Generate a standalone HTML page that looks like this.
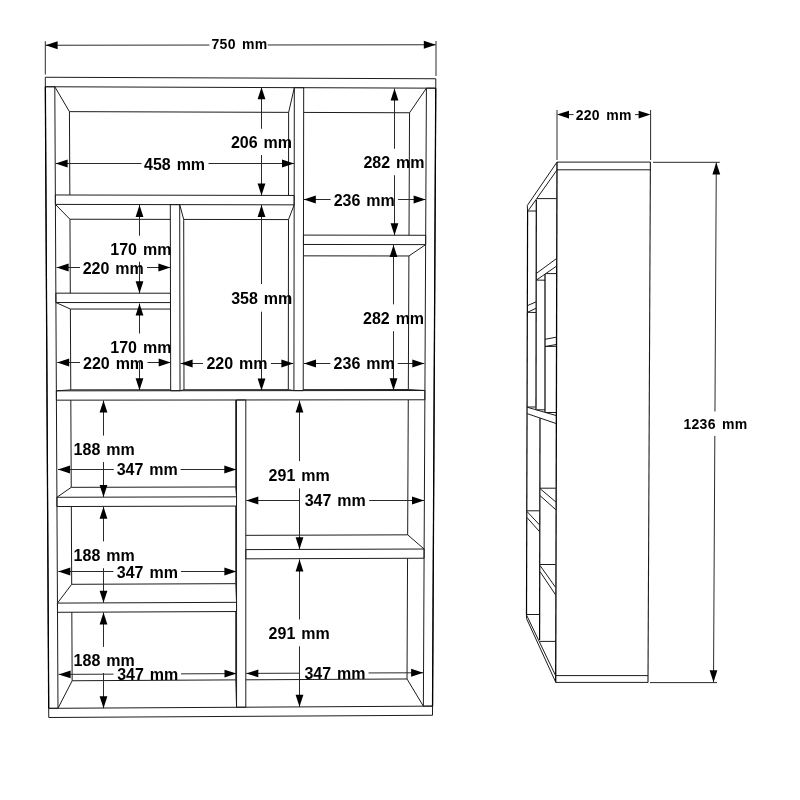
<!DOCTYPE html>
<html><head><meta charset="utf-8"><title>Bookshelf dimensions</title>
<style>
html,body{margin:0;padding:0;background:#fff;}
body{width:800px;height:800px;overflow:hidden;}
svg{display:block;will-change:transform;}
text{font-family:"Liberation Sans",sans-serif;font-weight:bold;font-size:16px;fill:#000;word-spacing:1.5px;}
text.s{font-size:14px;letter-spacing:0.3px;word-spacing:2px;}
</style></head><body>
<svg width="800" height="800" viewBox="0 0 800 800">
<rect width="800" height="800" fill="#fff"/>
<line x1="45.30" y1="77.25" x2="435.80" y2="78.75" stroke="#1c1c1c" stroke-width="1.0"/>
<line x1="435.80" y1="78.75" x2="435.75" y2="88.18" stroke="#1c1c1c" stroke-width="1.0"/>
<line x1="435.75" y1="88.18" x2="45.35" y2="86.74" stroke="#1c1c1c" stroke-width="1.0"/>
<line x1="45.35" y1="86.74" x2="45.30" y2="77.25" stroke="#1c1c1c" stroke-width="1.0"/>
<line x1="48.70" y1="708.34" x2="432.55" y2="706.14" stroke="#1c1c1c" stroke-width="1.0"/>
<line x1="432.55" y1="706.14" x2="432.50" y2="715.25" stroke="#1c1c1c" stroke-width="1.0"/>
<line x1="432.50" y1="715.25" x2="48.75" y2="717.50" stroke="#1c1c1c" stroke-width="1.0"/>
<line x1="48.75" y1="717.50" x2="48.70" y2="708.34" stroke="#1c1c1c" stroke-width="1.0"/>
<line x1="45.35" y1="86.74" x2="54.80" y2="86.77" stroke="#1c1c1c" stroke-width="1.0"/>
<line x1="54.80" y1="86.77" x2="57.99" y2="708.28" stroke="#1c1c1c" stroke-width="1.0"/>
<line x1="57.99" y1="708.28" x2="48.70" y2="708.34" stroke="#1c1c1c" stroke-width="1.0"/>
<line x1="48.70" y1="708.34" x2="45.35" y2="86.74" stroke="#1c1c1c" stroke-width="1.0"/>
<line x1="426.41" y1="88.15" x2="435.75" y2="88.18" stroke="#1c1c1c" stroke-width="1.0"/>
<line x1="435.75" y1="88.18" x2="432.55" y2="706.14" stroke="#1c1c1c" stroke-width="1.0"/>
<line x1="432.55" y1="706.14" x2="423.36" y2="706.19" stroke="#1c1c1c" stroke-width="1.0"/>
<line x1="423.36" y1="706.19" x2="426.41" y2="88.15" stroke="#1c1c1c" stroke-width="1.0"/>
<line x1="56.36" y1="390.84" x2="424.92" y2="390.50" stroke="#1c1c1c" stroke-width="1.0"/>
<line x1="424.92" y1="390.50" x2="424.87" y2="399.78" stroke="#1c1c1c" stroke-width="1.0"/>
<line x1="424.87" y1="399.78" x2="56.41" y2="400.16" stroke="#1c1c1c" stroke-width="1.0"/>
<line x1="56.41" y1="400.16" x2="56.36" y2="390.84" stroke="#1c1c1c" stroke-width="1.0"/>
<line x1="294.32" y1="87.66" x2="303.70" y2="87.69" stroke="#1c1c1c" stroke-width="1.0"/>
<line x1="303.70" y1="87.69" x2="303.21" y2="390.61" stroke="#1c1c1c" stroke-width="1.0"/>
<line x1="303.21" y1="390.61" x2="293.91" y2="390.62" stroke="#1c1c1c" stroke-width="1.0"/>
<line x1="293.91" y1="390.62" x2="294.32" y2="87.66" stroke="#1c1c1c" stroke-width="1.0"/>
<line x1="55.36" y1="194.97" x2="294.18" y2="195.46" stroke="#1c1c1c" stroke-width="1.0"/>
<line x1="294.18" y1="195.46" x2="294.16" y2="204.85" stroke="#1c1c1c" stroke-width="1.0"/>
<line x1="294.16" y1="204.85" x2="55.40" y2="204.40" stroke="#1c1c1c" stroke-width="1.0"/>
<line x1="55.40" y1="204.40" x2="55.36" y2="194.97" stroke="#1c1c1c" stroke-width="1.0"/>
<line x1="303.46" y1="235.09" x2="425.69" y2="235.27" stroke="#1c1c1c" stroke-width="1.0"/>
<line x1="425.69" y1="235.27" x2="425.64" y2="244.62" stroke="#1c1c1c" stroke-width="1.0"/>
<line x1="425.64" y1="244.62" x2="303.45" y2="244.46" stroke="#1c1c1c" stroke-width="1.0"/>
<line x1="303.45" y1="244.46" x2="303.46" y2="235.09" stroke="#1c1c1c" stroke-width="1.0"/>
<line x1="170.31" y1="204.62" x2="179.69" y2="204.63" stroke="#1c1c1c" stroke-width="1.0"/>
<line x1="179.69" y1="204.63" x2="180.02" y2="390.73" stroke="#1c1c1c" stroke-width="1.0"/>
<line x1="180.02" y1="390.73" x2="170.68" y2="390.74" stroke="#1c1c1c" stroke-width="1.0"/>
<line x1="170.68" y1="390.74" x2="170.31" y2="204.62" stroke="#1c1c1c" stroke-width="1.0"/>
<line x1="55.86" y1="293.17" x2="170.49" y2="293.23" stroke="#1c1c1c" stroke-width="1.0"/>
<line x1="170.49" y1="293.23" x2="170.51" y2="302.59" stroke="#1c1c1c" stroke-width="1.0"/>
<line x1="170.51" y1="302.59" x2="55.91" y2="302.54" stroke="#1c1c1c" stroke-width="1.0"/>
<line x1="55.91" y1="302.54" x2="55.86" y2="293.17" stroke="#1c1c1c" stroke-width="1.0"/>
<line x1="236.50" y1="399.97" x2="245.81" y2="399.96" stroke="#1c1c1c" stroke-width="1.0"/>
<line x1="245.81" y1="399.96" x2="245.80" y2="707.21" stroke="#1c1c1c" stroke-width="1.0"/>
<line x1="245.80" y1="707.21" x2="236.57" y2="707.26" stroke="#1c1c1c" stroke-width="1.0"/>
<line x1="236.57" y1="707.26" x2="236.50" y2="399.97" stroke="#1c1c1c" stroke-width="1.0"/>
<line x1="56.91" y1="497.27" x2="236.52" y2="496.82" stroke="#1c1c1c" stroke-width="1.0"/>
<line x1="236.52" y1="496.82" x2="236.52" y2="506.06" stroke="#1c1c1c" stroke-width="1.0"/>
<line x1="236.52" y1="506.06" x2="56.95" y2="506.54" stroke="#1c1c1c" stroke-width="1.0"/>
<line x1="56.95" y1="506.54" x2="56.91" y2="497.27" stroke="#1c1c1c" stroke-width="1.0"/>
<line x1="57.45" y1="603.08" x2="236.54" y2="602.34" stroke="#1c1c1c" stroke-width="1.0"/>
<line x1="236.54" y1="602.34" x2="236.54" y2="611.53" stroke="#1c1c1c" stroke-width="1.0"/>
<line x1="236.54" y1="611.53" x2="57.50" y2="612.30" stroke="#1c1c1c" stroke-width="1.0"/>
<line x1="57.50" y1="612.30" x2="57.45" y2="603.08" stroke="#1c1c1c" stroke-width="1.0"/>
<line x1="245.81" y1="549.62" x2="424.14" y2="549.03" stroke="#1c1c1c" stroke-width="1.0"/>
<line x1="424.14" y1="549.03" x2="424.09" y2="558.22" stroke="#1c1c1c" stroke-width="1.0"/>
<line x1="424.09" y1="558.22" x2="245.81" y2="558.84" stroke="#1c1c1c" stroke-width="1.0"/>
<line x1="245.81" y1="558.84" x2="245.81" y2="549.62" stroke="#1c1c1c" stroke-width="1.0"/>
<line x1="45.35" y1="86.74" x2="48.70" y2="708.34" stroke="#000" stroke-width="1.3"/>
<line x1="435.75" y1="88.18" x2="432.55" y2="706.14" stroke="#000" stroke-width="1.3"/>
<line x1="69.45" y1="111.64" x2="288.63" y2="112.37" stroke="#1c1c1c" stroke-width="1.0"/>
<line x1="69.45" y1="111.64" x2="69.85" y2="195.00" stroke="#1c1c1c" stroke-width="1.0"/>
<line x1="288.63" y1="112.37" x2="288.53" y2="195.45" stroke="#1c1c1c" stroke-width="1.0"/>
<line x1="54.80" y1="86.77" x2="69.45" y2="111.64" stroke="#1c1c1c" stroke-width="1.0"/>
<line x1="294.32" y1="87.66" x2="288.63" y2="112.37" stroke="#1c1c1c" stroke-width="1.0"/>
<line x1="303.66" y1="112.42" x2="409.56" y2="112.77" stroke="#1c1c1c" stroke-width="1.0"/>
<line x1="409.56" y1="112.77" x2="409.01" y2="235.25" stroke="#1c1c1c" stroke-width="1.0"/>
<line x1="426.41" y1="88.15" x2="409.56" y2="112.77" stroke="#1c1c1c" stroke-width="1.0"/>
<line x1="303.43" y1="255.85" x2="408.92" y2="255.97" stroke="#1c1c1c" stroke-width="1.0"/>
<line x1="303.22" y1="389.66" x2="408.32" y2="389.56" stroke="#1c1c1c" stroke-width="1.0"/>
<line x1="408.92" y1="255.97" x2="408.32" y2="389.56" stroke="#1c1c1c" stroke-width="1.0"/>
<line x1="425.64" y1="244.62" x2="408.92" y2="255.97" stroke="#1c1c1c" stroke-width="1.0"/>
<line x1="424.92" y1="390.50" x2="408.32" y2="389.56" stroke="#1c1c1c" stroke-width="1.0"/>
<line x1="69.96" y1="219.22" x2="170.34" y2="219.39" stroke="#1c1c1c" stroke-width="1.0"/>
<line x1="69.96" y1="219.22" x2="70.32" y2="293.18" stroke="#1c1c1c" stroke-width="1.0"/>
<line x1="55.40" y1="204.40" x2="69.96" y2="219.22" stroke="#1c1c1c" stroke-width="1.0"/>
<line x1="70.39" y1="309.03" x2="170.52" y2="309.07" stroke="#1c1c1c" stroke-width="1.0"/>
<line x1="70.77" y1="389.87" x2="170.68" y2="389.78" stroke="#1c1c1c" stroke-width="1.0"/>
<line x1="70.39" y1="309.03" x2="70.77" y2="389.87" stroke="#1c1c1c" stroke-width="1.0"/>
<line x1="55.91" y1="302.54" x2="70.39" y2="309.03" stroke="#1c1c1c" stroke-width="1.0"/>
<line x1="56.36" y1="390.84" x2="70.77" y2="389.87" stroke="#1c1c1c" stroke-width="1.0"/>
<line x1="183.71" y1="219.42" x2="288.50" y2="219.59" stroke="#1c1c1c" stroke-width="1.0"/>
<line x1="183.99" y1="389.77" x2="288.30" y2="389.67" stroke="#1c1c1c" stroke-width="1.0"/>
<line x1="183.71" y1="219.42" x2="183.99" y2="389.77" stroke="#1c1c1c" stroke-width="1.0"/>
<line x1="288.50" y1="219.59" x2="288.30" y2="389.67" stroke="#1c1c1c" stroke-width="1.0"/>
<line x1="179.69" y1="204.63" x2="183.71" y2="219.42" stroke="#1c1c1c" stroke-width="1.0"/>
<line x1="294.16" y1="204.85" x2="288.50" y2="219.59" stroke="#1c1c1c" stroke-width="1.0"/>
<line x1="180.02" y1="390.73" x2="183.99" y2="389.77" stroke="#1c1c1c" stroke-width="1.0"/>
<line x1="293.91" y1="390.62" x2="288.30" y2="389.67" stroke="#1c1c1c" stroke-width="1.0"/>
<line x1="71.24" y1="487.34" x2="235.74" y2="486.95" stroke="#1c1c1c" stroke-width="1.0"/>
<line x1="70.82" y1="400.15" x2="71.24" y2="487.34" stroke="#1c1c1c" stroke-width="1.0"/>
<line x1="235.72" y1="399.98" x2="235.74" y2="486.95" stroke="#1c1c1c" stroke-width="1.0"/>
<line x1="56.91" y1="497.27" x2="71.24" y2="487.34" stroke="#1c1c1c" stroke-width="1.0"/>
<line x1="236.52" y1="496.82" x2="235.74" y2="486.95" stroke="#1c1c1c" stroke-width="1.0"/>
<line x1="71.69" y1="584.30" x2="235.76" y2="583.67" stroke="#1c1c1c" stroke-width="1.0"/>
<line x1="71.33" y1="506.50" x2="71.69" y2="584.30" stroke="#1c1c1c" stroke-width="1.0"/>
<line x1="235.74" y1="506.06" x2="235.76" y2="583.67" stroke="#1c1c1c" stroke-width="1.0"/>
<line x1="57.45" y1="603.08" x2="71.69" y2="584.30" stroke="#1c1c1c" stroke-width="1.0"/>
<line x1="236.54" y1="602.34" x2="235.76" y2="583.67" stroke="#1c1c1c" stroke-width="1.0"/>
<line x1="72.15" y1="680.75" x2="235.78" y2="679.88" stroke="#1c1c1c" stroke-width="1.0"/>
<line x1="71.83" y1="612.24" x2="72.15" y2="680.75" stroke="#1c1c1c" stroke-width="1.0"/>
<line x1="235.76" y1="611.54" x2="235.78" y2="679.88" stroke="#1c1c1c" stroke-width="1.0"/>
<line x1="57.99" y1="708.28" x2="72.15" y2="680.75" stroke="#1c1c1c" stroke-width="1.0"/>
<line x1="236.57" y1="707.26" x2="235.78" y2="679.88" stroke="#1c1c1c" stroke-width="1.0"/>
<line x1="245.81" y1="535.34" x2="407.67" y2="534.84" stroke="#1c1c1c" stroke-width="1.0"/>
<line x1="408.27" y1="399.79" x2="407.67" y2="534.84" stroke="#1c1c1c" stroke-width="1.0"/>
<line x1="424.14" y1="549.03" x2="407.67" y2="534.84" stroke="#1c1c1c" stroke-width="1.0"/>
<line x1="245.80" y1="679.82" x2="407.02" y2="678.97" stroke="#1c1c1c" stroke-width="1.0"/>
<line x1="407.56" y1="558.28" x2="407.02" y2="678.97" stroke="#1c1c1c" stroke-width="1.0"/>
<line x1="423.36" y1="706.19" x2="407.02" y2="678.97" stroke="#1c1c1c" stroke-width="1.0"/>
<line x1="45.30" y1="41.20" x2="45.30" y2="74.50" stroke="#2a2a2a" stroke-width="1.0"/>
<line x1="436.00" y1="41.00" x2="436.00" y2="76.00" stroke="#2a2a2a" stroke-width="1.0"/>
<line x1="45.60" y1="45.25" x2="209.40" y2="45.04" stroke="#2a2a2a" stroke-width="1.0"/>
<line x1="267.75" y1="44.97" x2="435.80" y2="44.75" stroke="#2a2a2a" stroke-width="1.0"/>
<polygon points="45.60,45.25 57.60,41.35 57.60,49.15" fill="#000"/>
<polygon points="435.80,44.75 423.80,48.65 423.80,40.85" fill="#000"/>
<line x1="55.60" y1="163.50" x2="141.50" y2="163.50" stroke="#2a2a2a" stroke-width="1.0"/>
<line x1="208.50" y1="163.50" x2="294.00" y2="163.50" stroke="#2a2a2a" stroke-width="1.0"/>
<polygon points="55.60,163.50 67.60,159.60 67.60,167.40" fill="#000"/>
<polygon points="294.00,163.50 282.00,167.40 282.00,159.60" fill="#000"/>
<line x1="261.50" y1="87.20" x2="261.50" y2="128.75" stroke="#2a2a2a" stroke-width="1.0"/>
<line x1="261.50" y1="155.00" x2="261.50" y2="195.60" stroke="#2a2a2a" stroke-width="1.0"/>
<polygon points="261.50,87.20 265.40,99.20 257.60,99.20" fill="#000"/>
<polygon points="261.50,195.60 257.60,183.60 265.40,183.60" fill="#000"/>
<line x1="394.50" y1="88.50" x2="394.50" y2="148.75" stroke="#2a2a2a" stroke-width="1.0"/>
<line x1="394.50" y1="175.25" x2="394.50" y2="235.20" stroke="#2a2a2a" stroke-width="1.0"/>
<polygon points="394.50,88.50 398.40,100.50 390.60,100.50" fill="#000"/>
<polygon points="394.50,235.20 390.60,223.20 398.40,223.20" fill="#000"/>
<line x1="303.80" y1="199.50" x2="330.60" y2="199.50" stroke="#2a2a2a" stroke-width="1.0"/>
<line x1="398.10" y1="199.50" x2="425.60" y2="199.50" stroke="#2a2a2a" stroke-width="1.0"/>
<polygon points="303.80,199.50 315.80,195.60 315.80,203.40" fill="#000"/>
<polygon points="425.60,199.50 413.60,203.40 413.60,195.60" fill="#000"/>
<line x1="139.50" y1="204.90" x2="139.50" y2="235.75" stroke="#2a2a2a" stroke-width="1.0"/>
<line x1="139.50" y1="261.75" x2="139.50" y2="293.20" stroke="#2a2a2a" stroke-width="1.0"/>
<polygon points="139.50,204.90 143.40,216.90 135.60,216.90" fill="#000"/>
<polygon points="139.50,293.20 135.60,281.20 143.40,281.20" fill="#000"/>
<line x1="56.60" y1="267.50" x2="80.00" y2="267.50" stroke="#2a2a2a" stroke-width="1.0"/>
<line x1="147.00" y1="267.50" x2="170.40" y2="267.50" stroke="#2a2a2a" stroke-width="1.0"/>
<polygon points="56.60,267.50 68.60,263.60 68.60,271.40" fill="#000"/>
<polygon points="170.40,267.50 158.40,271.40 158.40,263.60" fill="#000"/>
<line x1="139.50" y1="303.60" x2="139.50" y2="333.50" stroke="#2a2a2a" stroke-width="1.0"/>
<line x1="139.50" y1="361.50" x2="139.50" y2="390.20" stroke="#2a2a2a" stroke-width="1.0"/>
<polygon points="139.50,303.60 143.40,315.60 135.60,315.60" fill="#000"/>
<polygon points="139.50,390.20 135.60,378.20 143.40,378.20" fill="#000"/>
<line x1="57.20" y1="362.50" x2="80.00" y2="362.50" stroke="#2a2a2a" stroke-width="1.0"/>
<line x1="147.50" y1="362.50" x2="170.70" y2="362.50" stroke="#2a2a2a" stroke-width="1.0"/>
<polygon points="57.20,362.50 69.20,358.60 69.20,366.40" fill="#000"/>
<polygon points="170.70,362.50 158.70,366.40 158.70,358.60" fill="#000"/>
<line x1="180.60" y1="363.50" x2="203.00" y2="363.50" stroke="#2a2a2a" stroke-width="1.0"/>
<line x1="270.90" y1="363.50" x2="293.40" y2="363.50" stroke="#2a2a2a" stroke-width="1.0"/>
<polygon points="180.60,363.50 192.60,359.60 192.60,367.40" fill="#000"/>
<polygon points="293.40,363.50 281.40,367.40 281.40,359.60" fill="#000"/>
<line x1="261.50" y1="205.00" x2="261.50" y2="284.00" stroke="#2a2a2a" stroke-width="1.0"/>
<line x1="261.50" y1="311.70" x2="261.50" y2="390.40" stroke="#2a2a2a" stroke-width="1.0"/>
<polygon points="261.50,205.00 265.40,217.00 257.60,217.00" fill="#000"/>
<polygon points="261.50,390.40 257.60,378.40 265.40,378.40" fill="#000"/>
<line x1="304.00" y1="363.50" x2="330.30" y2="363.50" stroke="#2a2a2a" stroke-width="1.0"/>
<line x1="397.75" y1="363.50" x2="424.30" y2="363.50" stroke="#2a2a2a" stroke-width="1.0"/>
<polygon points="304.00,363.50 316.00,359.60 316.00,367.40" fill="#000"/>
<polygon points="424.30,363.50 412.30,367.40 412.30,359.60" fill="#000"/>
<line x1="393.50" y1="245.00" x2="393.50" y2="304.40" stroke="#2a2a2a" stroke-width="1.0"/>
<line x1="393.50" y1="331.20" x2="393.50" y2="390.20" stroke="#2a2a2a" stroke-width="1.0"/>
<polygon points="393.50,245.00 397.40,257.00 389.60,257.00" fill="#000"/>
<polygon points="393.50,390.20 389.60,378.20 397.40,378.20" fill="#000"/>
<line x1="103.50" y1="400.60" x2="103.50" y2="435.60" stroke="#2a2a2a" stroke-width="1.0"/>
<line x1="103.50" y1="462.00" x2="103.50" y2="497.00" stroke="#2a2a2a" stroke-width="1.0"/>
<polygon points="103.50,400.60 107.40,412.60 99.60,412.60" fill="#000"/>
<polygon points="103.50,497.00 99.60,485.00 107.40,485.00" fill="#000"/>
<line x1="58.00" y1="469.50" x2="113.70" y2="469.50" stroke="#2a2a2a" stroke-width="1.0"/>
<line x1="180.60" y1="469.50" x2="236.30" y2="469.50" stroke="#2a2a2a" stroke-width="1.0"/>
<polygon points="58.00,469.50 70.00,465.60 70.00,473.40" fill="#000"/>
<polygon points="236.30,469.50 224.30,473.40 224.30,465.60" fill="#000"/>
<line x1="103.50" y1="506.70" x2="103.50" y2="541.40" stroke="#2a2a2a" stroke-width="1.0"/>
<line x1="103.50" y1="568.20" x2="103.50" y2="602.70" stroke="#2a2a2a" stroke-width="1.0"/>
<polygon points="103.50,506.70 107.40,518.70 99.60,518.70" fill="#000"/>
<polygon points="103.50,602.70 99.60,590.70 107.40,590.70" fill="#000"/>
<line x1="58.30" y1="571.50" x2="113.40" y2="571.50" stroke="#2a2a2a" stroke-width="1.0"/>
<line x1="181.00" y1="571.50" x2="236.40" y2="571.50" stroke="#2a2a2a" stroke-width="1.0"/>
<polygon points="58.30,571.50 70.30,567.60 70.30,575.40" fill="#000"/>
<polygon points="236.40,571.50 224.40,575.40 224.40,567.60" fill="#000"/>
<line x1="103.50" y1="612.40" x2="103.50" y2="646.90" stroke="#2a2a2a" stroke-width="1.0"/>
<line x1="103.50" y1="673.00" x2="103.50" y2="708.20" stroke="#2a2a2a" stroke-width="1.0"/>
<polygon points="103.50,612.40 107.40,624.40 99.60,624.40" fill="#000"/>
<polygon points="103.50,708.20 99.60,696.20 107.40,696.20" fill="#000"/>
<line x1="58.60" y1="674.40" x2="113.50" y2="674.15" stroke="#2a2a2a" stroke-width="1.0"/>
<line x1="181.00" y1="673.85" x2="236.50" y2="673.60" stroke="#2a2a2a" stroke-width="1.0"/>
<polygon points="58.60,674.40 70.60,670.50 70.60,678.30" fill="#000"/>
<polygon points="236.50,673.60 224.50,677.50 224.50,669.70" fill="#000"/>
<line x1="299.50" y1="400.60" x2="299.50" y2="461.10" stroke="#2a2a2a" stroke-width="1.0"/>
<line x1="299.50" y1="488.40" x2="299.50" y2="549.30" stroke="#2a2a2a" stroke-width="1.0"/>
<polygon points="299.50,400.60 303.40,412.60 295.60,412.60" fill="#000"/>
<polygon points="299.50,549.30 295.60,537.30 303.40,537.30" fill="#000"/>
<line x1="246.30" y1="500.50" x2="299.80" y2="500.50" stroke="#2a2a2a" stroke-width="1.0"/>
<line x1="369.20" y1="500.50" x2="424.00" y2="500.50" stroke="#2a2a2a" stroke-width="1.0"/>
<polygon points="246.30,500.50 258.30,496.60 258.30,504.40" fill="#000"/>
<polygon points="424.00,500.50 412.00,504.40 412.00,496.60" fill="#000"/>
<line x1="299.50" y1="559.40" x2="299.50" y2="619.50" stroke="#2a2a2a" stroke-width="1.0"/>
<line x1="299.50" y1="646.30" x2="299.50" y2="706.80" stroke="#2a2a2a" stroke-width="1.0"/>
<polygon points="299.50,559.40 303.40,571.40 295.60,571.40" fill="#000"/>
<polygon points="299.50,706.80 295.60,694.80 303.40,694.80" fill="#000"/>
<line x1="246.30" y1="673.40" x2="299.80" y2="673.20" stroke="#2a2a2a" stroke-width="1.0"/>
<line x1="368.50" y1="672.95" x2="423.10" y2="672.75" stroke="#2a2a2a" stroke-width="1.0"/>
<polygon points="246.30,673.40 258.30,669.50 258.30,677.30" fill="#000"/>
<polygon points="423.10,672.75 411.10,676.65 411.10,668.85" fill="#000"/>
<line x1="557.00" y1="162.10" x2="650.60" y2="162.10" stroke="#1c1c1c" stroke-width="1.0"/>
<line x1="557.00" y1="169.80" x2="650.30" y2="169.80" stroke="#1c1c1c" stroke-width="1.0"/>
<line x1="650.40" y1="162.10" x2="648.00" y2="682.40" stroke="#1c1c1c" stroke-width="1.1"/>
<line x1="557.00" y1="162.10" x2="555.70" y2="682.40" stroke="#000" stroke-width="1.3"/>
<line x1="555.60" y1="675.60" x2="648.10" y2="675.60" stroke="#1c1c1c" stroke-width="1.0"/>
<line x1="555.80" y1="682.40" x2="648.00" y2="682.40" stroke="#1c1c1c" stroke-width="1.0"/>
<line x1="557.00" y1="162.10" x2="527.30" y2="205.50" stroke="#1c1c1c" stroke-width="1.0"/>
<line x1="527.30" y1="205.50" x2="527.50" y2="210.00" stroke="#1c1c1c" stroke-width="1.0"/>
<line x1="557.00" y1="170.00" x2="528.30" y2="210.50" stroke="#1c1c1c" stroke-width="1.0"/>
<line x1="527.60" y1="210.00" x2="526.50" y2="615.00" stroke="#000" stroke-width="1.2"/>
<line x1="527.70" y1="211.00" x2="536.30" y2="211.00" stroke="#1c1c1c" stroke-width="1.0"/>
<line x1="537.00" y1="198.60" x2="556.80" y2="198.60" stroke="#1c1c1c" stroke-width="1.0"/>
<line x1="536.30" y1="200.00" x2="536.00" y2="409.50" stroke="#000" stroke-width="1.2"/>
<line x1="556.60" y1="258.50" x2="536.20" y2="273.50" stroke="#1c1c1c" stroke-width="1.0"/>
<line x1="556.60" y1="266.10" x2="536.40" y2="280.10" stroke="#1c1c1c" stroke-width="1.0"/>
<line x1="536.40" y1="280.10" x2="545.00" y2="280.20" stroke="#1c1c1c" stroke-width="1.0"/>
<line x1="545.40" y1="273.60" x2="556.50" y2="273.60" stroke="#1c1c1c" stroke-width="1.0"/>
<line x1="545.00" y1="274.30" x2="545.00" y2="412.00" stroke="#000" stroke-width="1.2"/>
<line x1="536.20" y1="301.80" x2="527.50" y2="305.60" stroke="#1c1c1c" stroke-width="1.0"/>
<line x1="536.20" y1="308.20" x2="527.50" y2="312.30" stroke="#1c1c1c" stroke-width="1.0"/>
<line x1="527.50" y1="312.30" x2="536.20" y2="312.50" stroke="#1c1c1c" stroke-width="1.0"/>
<line x1="556.30" y1="337.20" x2="545.00" y2="339.30" stroke="#1c1c1c" stroke-width="1.0"/>
<line x1="556.30" y1="344.50" x2="545.00" y2="346.50" stroke="#1c1c1c" stroke-width="1.0"/>
<line x1="545.00" y1="346.50" x2="556.30" y2="346.30" stroke="#1c1c1c" stroke-width="1.0"/>
<line x1="527.10" y1="407.20" x2="556.00" y2="415.50" stroke="#1c1c1c" stroke-width="1.0"/>
<line x1="527.10" y1="413.60" x2="556.00" y2="423.50" stroke="#1c1c1c" stroke-width="1.0"/>
<line x1="527.10" y1="407.00" x2="535.50" y2="407.00" stroke="#1c1c1c" stroke-width="1.0"/>
<line x1="536.50" y1="409.80" x2="545.00" y2="409.80" stroke="#1c1c1c" stroke-width="1.0"/>
<line x1="545.60" y1="412.50" x2="556.00" y2="412.50" stroke="#1c1c1c" stroke-width="1.0"/>
<line x1="540.00" y1="418.30" x2="539.60" y2="640.00" stroke="#000" stroke-width="1.2"/>
<line x1="540.00" y1="488.20" x2="555.90" y2="488.20" stroke="#1c1c1c" stroke-width="1.0"/>
<line x1="540.00" y1="488.60" x2="555.90" y2="502.00" stroke="#1c1c1c" stroke-width="1.0"/>
<line x1="540.00" y1="495.60" x2="555.90" y2="509.80" stroke="#1c1c1c" stroke-width="1.0"/>
<line x1="527.00" y1="510.80" x2="539.80" y2="510.80" stroke="#1c1c1c" stroke-width="1.0"/>
<line x1="527.00" y1="511.50" x2="539.70" y2="525.00" stroke="#1c1c1c" stroke-width="1.0"/>
<line x1="527.00" y1="517.60" x2="539.70" y2="531.80" stroke="#1c1c1c" stroke-width="1.0"/>
<line x1="540.00" y1="564.50" x2="555.70" y2="564.50" stroke="#1c1c1c" stroke-width="1.0"/>
<line x1="540.00" y1="565.50" x2="555.70" y2="587.50" stroke="#1c1c1c" stroke-width="1.0"/>
<line x1="540.00" y1="571.60" x2="555.70" y2="595.00" stroke="#1c1c1c" stroke-width="1.0"/>
<line x1="526.50" y1="614.50" x2="539.60" y2="614.50" stroke="#1c1c1c" stroke-width="1.0"/>
<line x1="526.50" y1="615.00" x2="555.60" y2="675.60" stroke="#1c1c1c" stroke-width="1.0"/>
<line x1="526.50" y1="615.00" x2="526.50" y2="618.50" stroke="#1c1c1c" stroke-width="1.0"/>
<line x1="526.50" y1="618.50" x2="555.80" y2="682.40" stroke="#1c1c1c" stroke-width="1.0"/>
<line x1="539.60" y1="641.40" x2="555.60" y2="641.40" stroke="#1c1c1c" stroke-width="1.0"/>
<line x1="557.00" y1="110.00" x2="557.00" y2="160.00" stroke="#2a2a2a" stroke-width="1.0"/>
<line x1="650.60" y1="110.00" x2="650.60" y2="160.00" stroke="#2a2a2a" stroke-width="1.0"/>
<line x1="568.00" y1="114.60" x2="573.60" y2="114.60" stroke="#2a2a2a" stroke-width="1.0"/>
<line x1="635.00" y1="114.60" x2="639.00" y2="114.60" stroke="#2a2a2a" stroke-width="1.0"/>
<polygon points="557.00,114.60 569.00,110.70 569.00,118.50" fill="#000"/>
<polygon points="650.60,114.60 638.60,118.50 638.60,110.70" fill="#000"/>
<line x1="653.00" y1="162.30" x2="719.80" y2="162.30" stroke="#2a2a2a" stroke-width="1.0"/>
<line x1="650.00" y1="682.60" x2="717.00" y2="682.60" stroke="#2a2a2a" stroke-width="1.0"/>
<line x1="716.30" y1="162.50" x2="714.96" y2="411.50" stroke="#2a2a2a" stroke-width="1.0"/>
<line x1="714.83" y1="435.90" x2="713.50" y2="682.30" stroke="#2a2a2a" stroke-width="1.0"/>
<polygon points="716.30,162.50 720.20,174.50 712.40,174.50" fill="#000"/>
<polygon points="713.50,682.30 709.60,670.30 717.40,670.30" fill="#000"/>
<text x="211.50" y="48.90" class="s">750 mm</text>
<text x="144.00" y="170.00">458 mm</text>
<text x="230.90" y="147.60">206 mm</text>
<text x="363.40" y="167.80">282 mm</text>
<text x="333.70" y="205.90">236 mm</text>
<text x="110.30" y="254.50">170 mm</text>
<text x="82.70" y="273.90">220 mm</text>
<text x="110.30" y="352.70">170 mm</text>
<text x="83.00" y="368.80">220 mm</text>
<text x="206.40" y="369.00">220 mm</text>
<text x="231.20" y="304.10">358 mm</text>
<text x="333.60" y="369.00">236 mm</text>
<text x="363.00" y="323.90">282 mm</text>
<text x="73.60" y="454.80">188 mm</text>
<text x="116.70" y="475.40">347 mm</text>
<text x="73.60" y="560.60">188 mm</text>
<text x="116.80" y="577.70">347 mm</text>
<text x="73.60" y="666.20">188 mm</text>
<text x="117.20" y="680.00">347 mm</text>
<text x="268.60" y="480.60">291 mm</text>
<text x="304.70" y="506.30">347 mm</text>
<text x="268.60" y="639.00">291 mm</text>
<text x="304.40" y="679.30">347 mm</text>
<text x="575.70" y="120.00" class="s">220 mm</text>
<text x="683.40" y="429.10" class="s">1236 mm</text>
</svg>
</body></html>
